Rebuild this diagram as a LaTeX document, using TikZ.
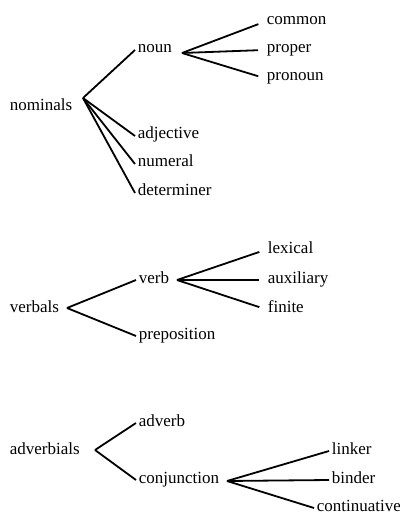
\documentclass[tikz,border=0pt]{standalone}
\usepackage{fontspec}
\setmainfont{Liberation Serif}
\tikzset{word/.style={anchor=base west, inner sep=1pt, text height=5pt, text depth=2pt,
    font=\fontsize{8.5}{10}\selectfont}}

\begin{document}
\begin{tikzpicture}[x=0.5pt, y=-0.5pt, line width=0.9pt]
    \useasboundingbox (0,0) rectangle (400,513);
    % nominals
    \node[word] (nominals) at (7,111) {nominals};
    \node[word] (noun) at (135,53) {noun};
    \node[word] (common) at (264,25) {common};
    \node[word] (proper) at (264,53) {proper};
    \node[word] (pronoun) at (264,81) {pronoun};
    \node[word] (adjective) at (135,139) {adjective};
    \node[word] (numeral) at (135,167) {numeral};
    \node[word] (determiner) at (135,196) {determiner};
    \coordinate (nomfork) at (83,98);
    \coordinate (nounfork) at (182,53);
    \draw (nomfork) -- (noun.west); \draw (nomfork) -- (adjective.west);
    \draw (nomfork) -- (numeral.west); \draw (nomfork) -- (determiner.west);
    \draw[shorten >=3pt] (nounfork) -- (common.west); \draw[shorten >=3pt] (nounfork) -- (proper.west);
    \draw[shorten >=3pt] (nounfork) -- (pronoun.west);
    % verbals
    \node[word] (verbals) at (7,312) {verbals};
    \node[word] (verb) at (136,283) {verb};
    \node[word] (preposition) at (136,339) {preposition};
    \node[word] (lexical) at (265,253) {lexical};
    \node[word] (auxiliary) at (265,283) {auxiliary};
    \node[word] (finite) at (265,312) {finite};
    \coordinate (verbalsfork) at (67,308);
    \coordinate (verbfork) at (177,280);
    \draw (verbalsfork) -- (verb.west); \draw (verbalsfork) -- (preposition.west);
    \draw[shorten >=3pt] (verbfork) -- (lexical.west); \draw[shorten >=3pt] (verbfork) -- (auxiliary.west);
    \draw[shorten >=3pt] (verbfork) -- (finite.west);
    % adverbials
    \node[word] (adverbials) at (7,454) {adverbials};
    \node[word] (adverb) at (136,426) {adverb};
    \node[word] (conjunction) at (136,483) {conjunction};
    \node[word] (linker) at (329,454) {linker};
    \node[word] (binder) at (329,483) {binder};
    \node[word] (continuative) at (314,511) {continuative};
    \coordinate (advfork) at (95,450);
    \coordinate (conjfork) at (227,481);
    \draw (advfork) -- (adverb.west); \draw (advfork) -- (conjunction.west);
    \draw (conjfork) -- (linker.west); \draw (conjfork) -- (binder.west);
    \draw (conjfork) -- (continuative.west);
\end{tikzpicture}
\end{document}
